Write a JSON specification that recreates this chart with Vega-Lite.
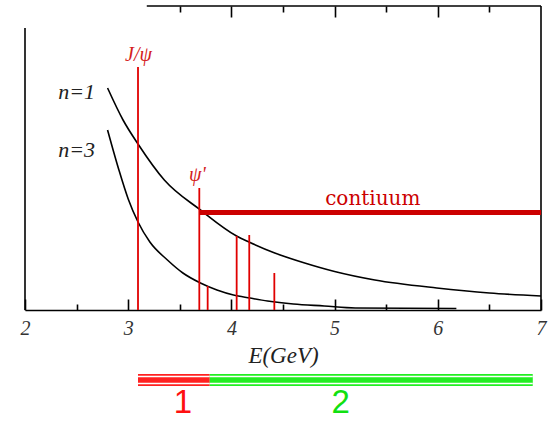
{
  "$schema": "https://vega.github.io/schema/vega-lite/v6.json",
  "width": 516,
  "height": 304,
  "autosize": {"type": "none"},
  "padding": {"left": 25, "top": 6, "right": 9, "bottom": 111},
  "background": "white",
  "config": {"view": {"stroke": null}},
  "resolve": {"axis": {"x": "independent", "y": "independent"}},
  "datasets": {
    "curves": [
      {"curve": "n=1", "E": 2.80, "v": 222},
      {"curve": "n=1", "E": 2.95, "v": 190},
      {"curve": "n=1", "E": 3.095, "v": 166},
      {"curve": "n=1", "E": 3.35, "v": 130},
      {"curve": "n=1", "E": 3.70, "v": 100},
      {"curve": "n=1", "E": 4.05, "v": 74},
      {"curve": "n=1", "E": 4.17, "v": 68},
      {"curve": "n=1", "E": 4.42, "v": 57},
      {"curve": "n=1", "E": 4.71, "v": 47},
      {"curve": "n=1", "E": 5.0, "v": 38.5},
      {"curve": "n=1", "E": 5.39, "v": 30},
      {"curve": "n=1", "E": 5.99, "v": 22},
      {"curve": "n=1", "E": 6.50, "v": 17},
      {"curve": "n=1", "E": 7.0, "v": 14},
      {"curve": "n=3", "E": 2.80, "v": 180},
      {"curve": "n=3", "E": 2.91, "v": 140},
      {"curve": "n=3", "E": 3.0, "v": 111},
      {"curve": "n=3", "E": 3.095, "v": 88},
      {"curve": "n=3", "E": 3.21, "v": 68},
      {"curve": "n=3", "E": 3.38, "v": 50},
      {"curve": "n=3", "E": 3.53, "v": 37},
      {"curve": "n=3", "E": 3.70, "v": 27},
      {"curve": "n=3", "E": 3.86, "v": 20},
      {"curve": "n=3", "E": 4.02, "v": 15},
      {"curve": "n=3", "E": 4.18, "v": 12},
      {"curve": "n=3", "E": 4.35, "v": 9},
      {"curve": "n=3", "E": 4.6, "v": 6},
      {"curve": "n=3", "E": 4.9, "v": 4},
      {"curve": "n=3", "E": 5.2, "v": 2},
      {"curve": "n=3", "E": 6.18, "v": 1.5}
    ],
    "resonances": [
      {"name": "J/psi", "E": 3.095, "top": 243, "bottom": 0},
      {"name": "psi'", "E": 3.689, "top": 122, "bottom": 0},
      {"name": "psi(3770)", "E": 3.770, "top": 24, "bottom": 0},
      {"name": "psi(4040)", "E": 4.051, "top": 74, "bottom": 0},
      {"name": "psi(4160)", "E": 4.173, "top": 75, "bottom": 0},
      {"name": "psi(4415)", "E": 4.416, "top": 37, "bottom": 0}
    ],
    "serifLabels": [
      {"text": "n=1", "E": 2.50, "v": 218, "color": "black"},
      {"text": "n=3", "E": 2.50, "v": 160, "color": "black"}
    ],
    "redLabels": [
      {"text": "J/ψ", "E": 3.10, "v": 255},
      {"text": "ψ'", "E": 3.67, "v": 135}
    ],
    "contLabel": [
      {"text": "contiuum", "E": 5.37, "v": 111}
    ],
    "segLabels": [
      {"text": "1", "E": 3.53, "v": -93, "color": "#ff1010"},
      {"text": "2", "E": 5.06, "v": -93, "color": "#11e011"}
    ],
    "bars": [
      {"seg": "1", "E": 3.095, "E2": 3.79, "v": -70},
      {"seg": "2", "E": 3.79, "E2": 6.92, "v": -70}
    ],
    "frame": [
      {"part": "top", "E": 3.18, "E2": 7, "v": 304, "v2": 304},
      {"part": "left", "E": 2, "E2": 2, "v": 0, "v2": 282},
      {"part": "right", "E": 7, "E2": 7, "v": 0, "v2": 304}
    ],
    "continuum": [
      {"E": 3.689, "E2": 7, "v": 97.5}
    ]
  },
  "layer": [
    {
      "data": {"name": "curves"},
      "mark": {"type": "line", "color": "black", "strokeWidth": 1.6, "interpolate": "monotone"},
      "encoding": {
        "x": {
          "field": "E", "type": "quantitative",
          "scale": {"domain": [2, 7], "nice": false, "zero": false},
          "axis": {
            "orient": "bottom",
            "values": [2, 2.5, 3, 3.5, 4, 4.5, 5, 5.5, 6, 6.5, 7],
            "labelExpr": "datum.value % 1 === 0 ? format(datum.value, 'd') : ''",
            "grid": false,
            "domain": true, "domainColor": "black", "domainWidth": 1.6,
            "ticks": true, "tickColor": "black", "tickWidth": 1.6,
            "tickSize": {"condition": {"test": "datum.value % 1 === 0", "value": -11}, "value": -6},
            "labelFont": "Liberation Serif", "labelFontStyle": "italic", "labelFontSize": 20,
            "labelColor": "#333333", "labelPadding": 19, "labelFlush": false, "labelOverlap": false,
            "title": "E(GeV)", "titleFont": "Liberation Serif", "titleFontStyle": "italic",
            "titleFontWeight": "normal", "titleFontSize": 23, "titleColor": "#222222", "titlePadding": 1
          }
        },
        "y": {
          "field": "v", "type": "quantitative",
          "scale": {"domain": [0, 304], "nice": false, "zero": false},
          "axis": null
        },
        "detail": {"field": "curve"}
      }
    },
    {
      "data": {"name": "frame"},
      "mark": {"type": "rule", "color": "black", "strokeWidth": 1.6},
      "encoding": {
        "x": {
          "field": "E", "type": "quantitative",
          "axis": {
            "orient": "top",
            "values": [3.5, 4, 4.5, 5, 5.5, 6, 6.5],
            "labels": false, "domain": false, "grid": false, "title": null,
            "ticks": true, "tickColor": "black", "tickWidth": 1.6,
            "tickSize": {"condition": {"test": "datum.value % 1 === 0", "value": -11}, "value": -6}
          }
        },
        "x2": {"field": "E2"},
        "y": {"field": "v", "type": "quantitative", "axis": null},
        "y2": {"field": "v2"}
      }
    },
    {
      "data": {"name": "resonances"},
      "mark": {"type": "rule", "color": "#e00000", "strokeWidth": 1.8},
      "encoding": {
        "x": {"field": "E", "type": "quantitative", "axis": null},
        "y": {"field": "top", "type": "quantitative", "axis": null},
        "y2": {"field": "bottom"}
      }
    },
    {
      "data": {"name": "continuum"},
      "mark": {"type": "rule", "color": "#cc0000", "strokeWidth": 5},
      "encoding": {
        "x": {"field": "E", "type": "quantitative", "axis": null},
        "x2": {"field": "E2"},
        "y": {"field": "v", "type": "quantitative", "axis": null}
      }
    },
    {
      "data": {"name": "bars"},
      "mark": {"type": "rule", "strokeWidth": 12},
      "encoding": {
        "x": {"field": "E", "type": "quantitative", "axis": null},
        "x2": {"field": "E2"},
        "y": {"field": "v", "type": "quantitative", "axis": null},
        "color": {"field": "seg", "type": "nominal", "scale": {"domain": ["1", "2"], "range": ["#ff2020", "#22ee22"]}, "legend": null}
      }
    },
    {
      "data": {"name": "bars"},
      "mark": {"type": "rule", "strokeWidth": 8.5, "color": "white"},
      "encoding": {
        "x": {"field": "E", "type": "quantitative", "axis": null},
        "x2": {"field": "E2"},
        "y": {"field": "v", "type": "quantitative", "axis": null}
      }
    },
    {
      "data": {"name": "bars"},
      "mark": {"type": "rule", "strokeWidth": 5.5},
      "encoding": {
        "x": {"field": "E", "type": "quantitative", "axis": null},
        "x2": {"field": "E2"},
        "y": {"field": "v", "type": "quantitative", "axis": null},
        "color": {"field": "seg", "type": "nominal", "legend": null}
      }
    },
    {
      "data": {"name": "serifLabels"},
      "mark": {"type": "text", "align": "center", "baseline": "middle", "font": "Liberation Serif", "fontStyle": "italic", "fontSize": 22, "color": "#222222"},
      "encoding": {
        "x": {"field": "E", "type": "quantitative", "axis": null},
        "y": {"field": "v", "type": "quantitative", "axis": null},
        "text": {"field": "text"}
      }
    },
    {
      "data": {"name": "redLabels"},
      "mark": {"type": "text", "align": "center", "baseline": "middle", "font": "Liberation Serif", "fontStyle": "italic", "fontSize": 20, "color": "#d42020"},
      "encoding": {
        "x": {"field": "E", "type": "quantitative", "axis": null},
        "y": {"field": "v", "type": "quantitative", "axis": null},
        "text": {"field": "text"}
      }
    },
    {
      "data": {"name": "contLabel"},
      "mark": {"type": "text", "align": "center", "baseline": "middle", "font": "DejaVu Serif", "fontSize": 20, "color": "#cc0000"},
      "encoding": {
        "x": {"field": "E", "type": "quantitative", "axis": null},
        "y": {"field": "v", "type": "quantitative", "axis": null},
        "text": {"field": "text"}
      }
    },
    {
      "data": {"name": "segLabels"},
      "mark": {"type": "text", "align": "center", "baseline": "middle", "font": "Liberation Sans", "fontSize": 33},
      "encoding": {
        "x": {"field": "E", "type": "quantitative", "axis": null},
        "y": {"field": "v", "type": "quantitative", "axis": null},
        "text": {"field": "text"},
        "color": {"field": "color", "type": "nominal", "scale": null}
      }
    }
  ]
}
